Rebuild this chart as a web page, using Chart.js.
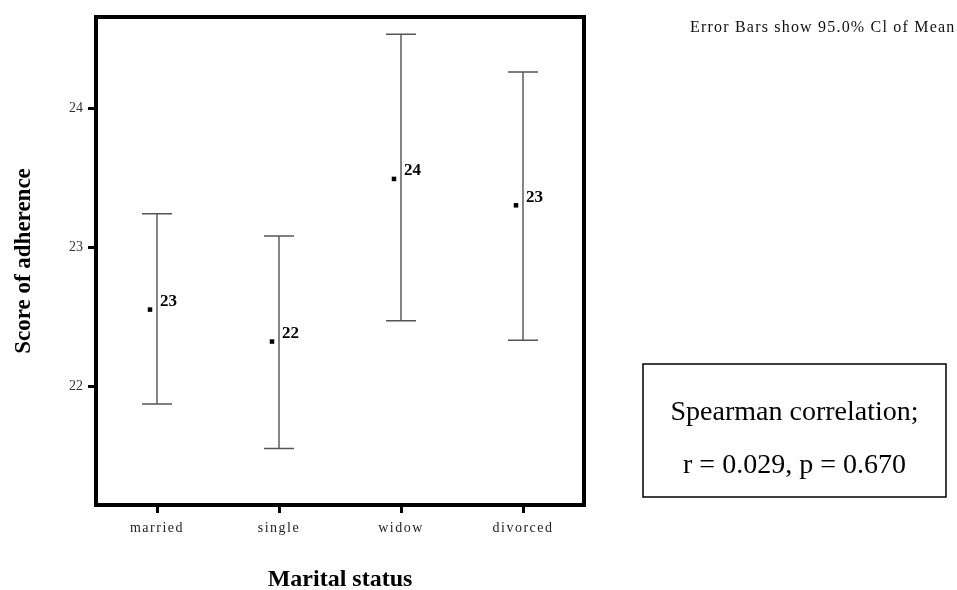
<!DOCTYPE html>
<html>
<head>
<meta charset="utf-8">
<script src="https://cdn.jsdelivr.net/npm/chart.js@4.4.0/dist/chart.umd.min.js"></script>
<style>
  html, body { margin: 0; padding: 0; background: #fff; }
  #wrap { width: 957px; height: 590px; }
</style>
</head>
<body>
<div id="wrap"><canvas id="chart" width="957" height="590"></canvas></div>
<script>
// values
const categories = ['married', 'single', 'widow', 'divorced'];
const means = [22.55, 22.32, 23.49, 23.30];
const lowerCI = [21.87, 21.55, 22.47, 22.33];
const upperCI = [23.24, 23.08, 24.53, 24.26];
const meanLabels = ['23', '22', '24', '23'];
const yMin = 21.144;
const yMax = 24.655;

const serif = '"Liberation Serif", "Times New Roman", serif';

const errorBars = {
    id: 'errorBars',
    beforeDraw(chart) {
        // spaced out category labels like the SPSS output
        const sx = chart.scales.x;
        if (!sx._spaced) {
            const orig = sx.drawLabels;
            sx.drawLabels = function (area) {
                this.ctx.save();
                this.ctx.letterSpacing = '1.5px';
                orig.call(this, area);
                this.ctx.restore();
            };
            sx._spaced = true;
        }
    },
    afterDatasetsDraw(chart) {
        const { ctx, chartArea, scales: { x, y } } = chart;
        ctx.save();

        ctx.strokeStyle = '#000';
        ctx.lineWidth = 4;
        ctx.strokeRect(chartArea.left, chartArea.top, chartArea.width, chartArea.height);

        categories.forEach((cat, i) => {
            const px = x.getPixelForValue(i);
            const yHi = y.getPixelForValue(upperCI[i]);
            const yLo = y.getPixelForValue(lowerCI[i]);
            const yMean = y.getPixelForValue(means[i]);

            ctx.strokeStyle = '#333';
            ctx.lineWidth = 1.2;
            ctx.beginPath();
            ctx.moveTo(px, yHi);
            ctx.lineTo(px, yLo);
            ctx.stroke();

            ctx.strokeStyle = '#555';
            ctx.lineWidth = 1.5;
            ctx.beginPath();
            ctx.moveTo(px - 15, yHi);
            ctx.lineTo(px + 15, yHi);
            ctx.moveTo(px - 15, yLo);
            ctx.lineTo(px + 15, yLo);
            ctx.stroke();

            ctx.fillStyle = '#000';
            ctx.fillRect(px - 7 - 2.25, yMean - 2.25, 4.5, 4.5);

            ctx.font = 'bold 17px ' + serif;
            ctx.textAlign = 'left';
            ctx.textBaseline = 'middle';
            ctx.fillText(meanLabels[i], px + 3, yMean - 8);
        });
        ctx.restore();
    },
    afterDraw(chart) {
        const ctx = chart.ctx;
        ctx.save();
        ctx.fillStyle = '#111';
        ctx.font = '16px ' + serif;
        ctx.letterSpacing = '1.2px';
        ctx.textAlign = 'left';
        ctx.textBaseline = 'middle';
        ctx.fillText('Error Bars show 95.0% Cl of Mean', 690, 28);
        ctx.letterSpacing = '0px';

        ctx.strokeStyle = '#000';
        ctx.lineWidth = 1.5;
        ctx.strokeRect(643, 364, 303, 133);
        ctx.fillStyle = '#000';
        ctx.font = '28px ' + serif;
        ctx.textAlign = 'center';
        ctx.fillText('Spearman correlation;', 794.5, 413);
        ctx.fillText('r = 0.029, p = 0.670', 794.5, 466);
        ctx.restore();
    }
};

new Chart(document.getElementById('chart'), {
    type: 'line',
    data: {
        labels: categories,
        datasets: [{
            data: means,
            showLine: false,
            pointRadius: 0
        }]
    },
    options: {
        responsive: false,
        animation: false,
        layout: { padding: { left: 10, top: 17, right: 373, bottom: 0 } },
        plugins: {
            legend: { display: false },
            tooltip: { enabled: false }
        },
        scales: {
            x: {
                type: 'category',
                offset: true,
                grid: { offset: false, drawOnChartArea: false, tickLength: 8, tickWidth: 3, color: '#000' },
                border: { display: false },
                ticks: { font: { family: serif, size: 14 }, color: '#222', padding: 7, maxRotation: 0 },
                title: {
                    display: true,
                    text: 'Marital status',
                    font: { family: serif, size: 24, weight: 'bold' },
                    color: '#000',
                    padding: { top: 0, bottom: -4 }
                },
                afterFit(s) { s.height = 85; }
            },
            y: {
                min: yMin,
                max: yMax,
                grid: { drawOnChartArea: false, tickLength: 8, tickWidth: 3, color: '#000' },
                border: { display: false },
                ticks: { stepSize: 1, includeBounds: false, font: { family: serif, size: 14 }, color: '#333', padding: 5 },
                title: {
                    display: true,
                    text: 'Score of adherence',
                    font: { family: serif, size: 23, weight: 'bold' },
                    color: '#000',
                    padding: 0
                },
                afterFit(s) { s.width = 86; }
            }
        }
    },
    plugins: [errorBars]
});
</script>
</body>
</html>
